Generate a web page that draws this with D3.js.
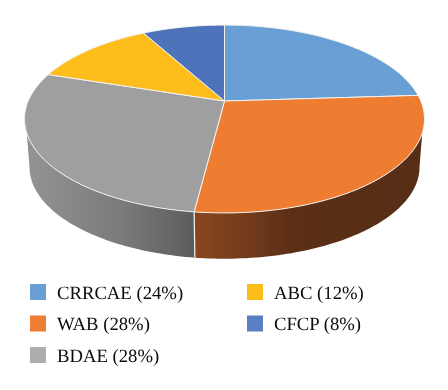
<!DOCTYPE html>
<html>
<head>
<meta charset="utf-8">
<script src="https://cdn.jsdelivr.net/npm/d3@7"></script>
<style>
  html, body { margin: 0; padding: 0; background: #fff; }
  /* the reference is a soft, slightly blurred raster */
  svg { display: block; filter: blur(0.4px); text-rendering: geometricPrecision; }
</style>
</head>
<body>
<div id="chart"></div>
<script>
const categories = ["CRRCAE", "WAB", "BDAE", "ABC", "CFCP"];
const shares = [24, 28, 28, 12, 8];
const topColors = ["#689fd4", "#ee7d31", "#9f9f9f", "#fdbd1b", "#4e73ba"];
const swatchColors = ["#6a9fd6", "#ee7f33", "#adadad", "#fdbd1b", "#5a7fc5"];

const width = 448, height = 390;
const svg = d3.select("#chart").append("svg")
  .attr("width", width)
  .attr("height", height);

// The pie lies tilted, so the near edge comes out bigger than the far edge
const tilt = 0.1915;
const cx = 224.5;
function project(angle, rx, ry, cy) {
  const u = Math.sin(angle), v = -Math.cos(angle);
  const w = 1 - tilt * v;
  return [cx + rx * u / w, cy + ry * v / w];
}
const topRim = a => project(a, 196.3, 90.5, 101);
const baseRim = a => project(a, 191.4, 88.3, 149.5);
const deg = d => d * Math.PI / 180;

const line = d3.line();
function arcPoints(a0, a1, rim) {
  const n = Math.max(2, Math.ceil(Math.abs(a1 - a0) / 0.02));
  return d3.range(n + 1).map(i => rim(a0 + (a1 - a0) * i / n));
}

const slices = d3.pie().sort(null)(shares);
const seam = slices[1].endAngle;

const defs = svg.append("defs");
function sideGradient(id, stops) {
  defs.append("linearGradient")
    .attr("id", id)
    .attr("gradientUnits", "userSpaceOnUse")
    .attr("x1", 0).attr("x2", width).attr("y1", 0).attr("y2", 0)
    .selectAll("stop")
    .data(stops)
    .enter().append("stop")
    .attr("offset", d => d[0] / width)
    .attr("stop-color", d => d[1]);
}
sideGradient("side-gray", [[28, "#929494"], [120, "#7a7c7c"], [195, "#5b5d5d"]]);
sideGradient("side-orange", [[195, "#88471f"], [245, "#733b1b"], [295, "#5a2f16"], [424, "#572d15"]]);

// Side walls: the top rim leaves the wall a bit below the widest point,
// the base rim runs on to its own widest point
const sideParts = [
  { topFrom: deg(109.4), baseFrom: deg(101), fill: "url(#side-orange)" },
  { topFrom: deg(250.6), baseFrom: deg(259), fill: "url(#side-gray)" }
];
svg.append("g").selectAll("path")
  .data(sideParts)
  .enter().append("path")
  .attr("d", d => line(arcPoints(d.topFrom, seam, topRim).concat(arcPoints(seam, d.baseFrom, baseRim))) + "Z")
  .attr("fill", d => d.fill);

// White seam where the two walls meet
svg.append("path")
  .attr("d", line([topRim(seam), baseRim(seam)]))
  .attr("stroke", "#f4f4f4")
  .attr("stroke-width", 1.2)
  .attr("fill", "none");

// Top face
svg.append("g").selectAll("path")
  .data(slices)
  .enter().append("path")
  .attr("d", d => line([[cx, 101]].concat(arcPoints(d.startAngle, d.endAngle, topRim))) + "Z")
  .attr("fill", (d, i) => topColors[i])
  .attr("stroke", "#f2f2f2")
  .attr("stroke-width", 1)
  .attr("stroke-linejoin", "round");

// Legend, filled column by column
const legendX = d3.scaleOrdinal().domain([0, 1]).range([30, 247]);
const legendY = d3.scalePoint().domain([0, 1, 2]).range([284, 347]);
const legend = svg.append("g").selectAll("g")
  .data(categories)
  .enter().append("g")
  .attr("transform", (d, i) => {
    const col = i < 3 ? 0 : 1;
    const row = i < 3 ? i : i - 3;
    return `translate(${legendX(col)},${legendY(row)})`;
  });
legend.append("rect")
  .attr("width", 16)
  .attr("height", 16)
  .attr("fill", (d, i) => swatchColors[i]);
legend.append("text")
  .attr("x", 27)
  .attr("y", 14.8)
  .attr("font-family", "'Liberation Serif', serif")
  .attr("font-size", 18.7)
  .attr("fill", "#0c0a0a")
  .text((d, i) => `${d} (${shares[i]}%)`);
</script>
</body>
</html>
